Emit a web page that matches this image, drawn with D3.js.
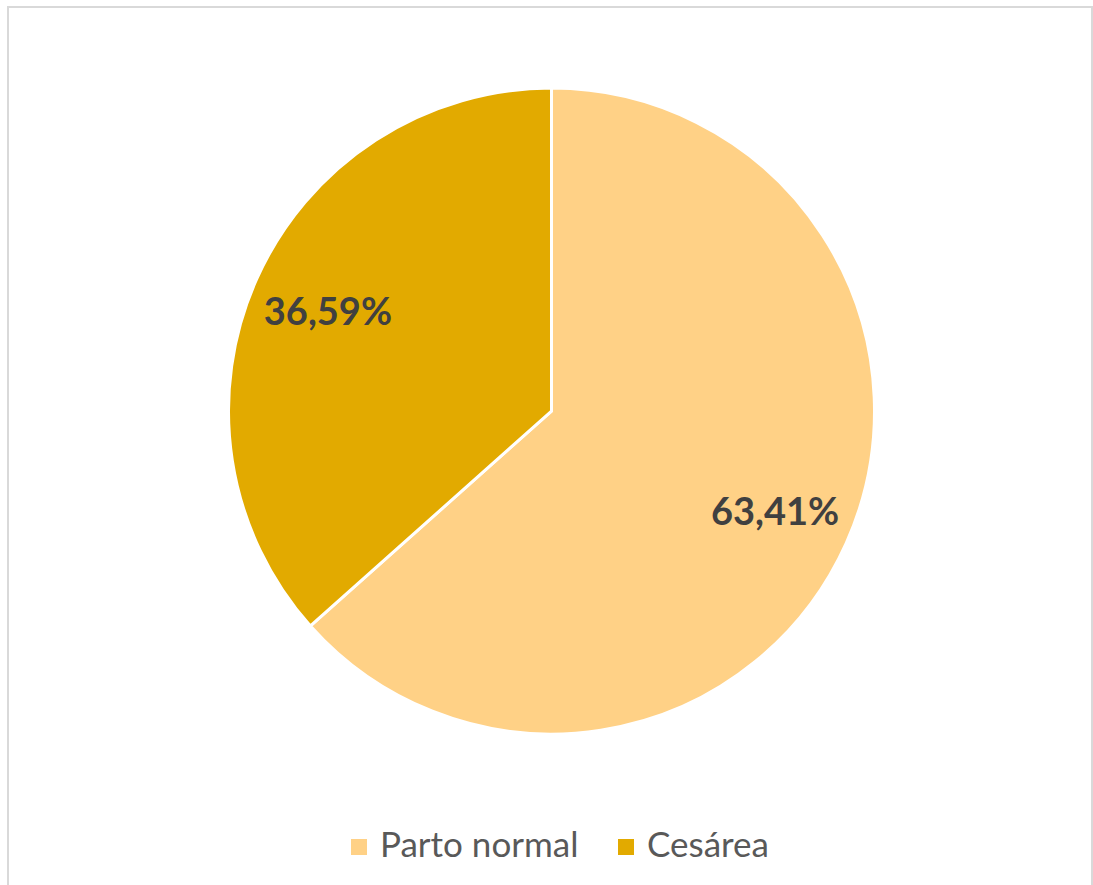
<!DOCTYPE html>
<html>
<head>
<meta charset="utf-8">
<script src="https://cdn.jsdelivr.net/npm/d3@7"></script>
<style>
  html, body { margin: 0; padding: 0; background: #fff; }
  svg { display: block; }
</style>
</head>
<body>
<svg id="chart" width="1093" height="885"></svg>
<script>
const categories = ["Parto normal", "Cesárea"];
const values = [63.41, 36.59];
const valueLabels = ["63,41%", "36,59%"];
const colors = ["#FFD186", "#E2AA00"];

const svg = d3.select("#chart");

// chart border
svg.append("rect")
  .attr("x", 8).attr("y", 7)
  .attr("width", 1084).attr("height", 890)
  .attr("fill", "#fff")
  .attr("stroke", "#d9d9d9")
  .attr("stroke-width", 2);

const cx = 551.5, cy = 411, R = 323;
const data = categories.map((c, i) => ({ cat: c, value: values[i], label: valueLabels[i], color: colors[i] }));

const pie = d3.pie().sort(null).value(d => d.value);
const arc = d3.arc().innerRadius(0).outerRadius(R);
const labelArc = d3.arc().innerRadius(245).outerRadius(245);

const g = svg.append("g").attr("transform", `translate(${cx},${cy})`);
const arcs = pie(data);

g.selectAll("path.slice")
  .data(arcs)
  .join("path")
  .attr("class", "slice")
  .attr("d", arc)
  .attr("fill", d => d.data.color)
  .attr("stroke", "#fff")
  .attr("stroke-width", 3)
  .attr("stroke-linejoin", "miter");

g.selectAll("text.lbl")
  .data(arcs)
  .join("text")
  .attr("class", "lbl")
  .attr("x", d => labelArc.centroid(d)[0])
  .attr("y", d => labelArc.centroid(d)[1])
  .attr("dy", "0.36em")
  .attr("text-anchor", "middle")
  .attr("font-family", "Lato, 'Open Sans', sans-serif")
  .attr("font-weight", "bold")
  .attr("font-size", 38)
  .attr("fill", "#404040")
  .text(d => d.data.label);

// legend
const legendX = d3.scaleOrdinal().domain(categories).range([351, 618]);
const lg = svg.append("g");
const items = lg.selectAll("g.item").data(data).join("g")
  .attr("class", "item")
  .attr("transform", d => `translate(${legendX(d.cat)},0)`);
items.append("rect")
  .attr("x", 0).attr("y", 839)
  .attr("width", 16).attr("height", 16)
  .attr("fill", d => d.color);
items.append("text")
  .attr("x", 29).attr("y", 857)
  .attr("font-family", "Lato, 'Open Sans', sans-serif")
  .attr("font-size", 35)
  .attr("fill", "#595959")
  .text(d => d.cat);
</script>
</body>
</html>
